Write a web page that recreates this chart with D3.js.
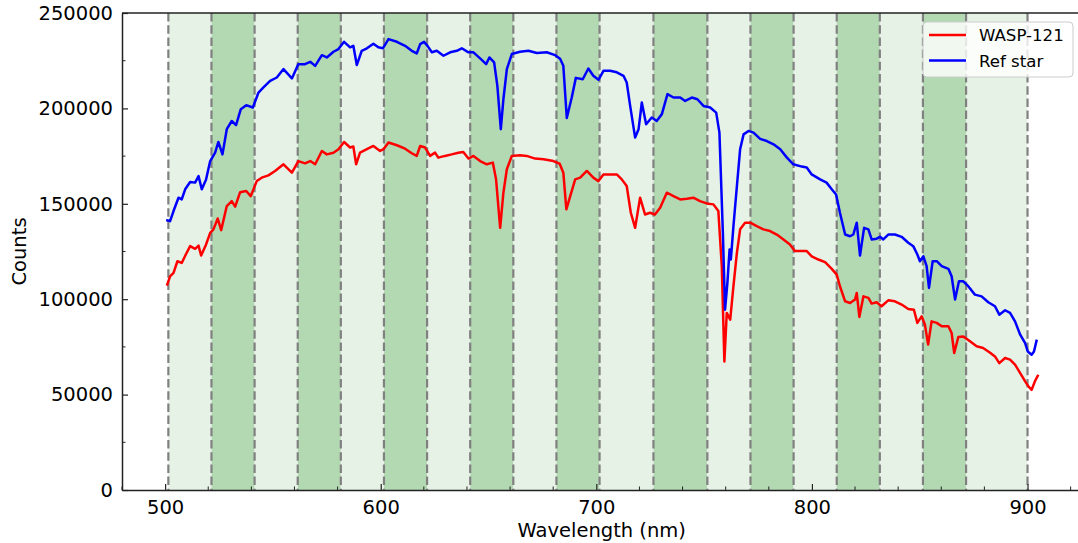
<!DOCTYPE html>
<html>
<head>
<meta charset="utf-8">
<script src="https://cdn.jsdelivr.net/npm/d3@7"></script>
<style>
  body { margin: 0; background: #fff; }
  svg { display: block; font-family: "DejaVu Sans", sans-serif; }
</style>
</head>
<body>
<svg id="chart" width="1078" height="543"></svg>
<script>
// bin edges (nm) of the spectroscopic channels
const binEdges = [501.5, 521.5, 541.5, 561.5, 581.5, 601.5, 621.5, 641.5, 661.5, 681.5,
  701.5, 726.5, 751.5, 771.5, 791.5, 811.5, 831.5, 851.5, 871.5, 900];

const xTicks = [500, 600, 700, 800, 900];
const yTicks = [0, 50000, 100000, 150000, 200000, 250000];

const seriesNames = ["WASP-121", "Ref star"];

const waspWl = [500.8, 502.3, 503.9, 505.7, 507.7, 509.6, 511.6, 513.9, 515.5, 516.7, 519.0, 520.9, 522.4, 524.4, 526.0,
  528.6, 530.9, 532.5, 534.8, 537.6, 539.7, 542.5, 544.8, 547.9, 551.0, 554.9, 558.8, 561.8, 564.9, 567.3, 569.6,
  572.7, 575.0, 578.1, 580.4, 583.0, 585.8, 587.3, 588.6, 590.4, 593.6, 596.6, 599.7, 601.3, 603.6, 607.5, 611.3,
  614.4, 616.7, 618.3, 620.6, 622.9, 625.2, 626.7, 629.8, 632.9, 636.0, 638.3, 640.7, 643.0, 646.1, 649.2, 652.0,
  653.5, 655.4, 656.9, 658.5, 660.8, 664.6, 667.7, 671.6, 675.5, 680.1, 683.0, 684.7, 686.1, 687.9, 690.2, 692.5,
  695.6, 698.6, 701.0, 703.3, 706.4, 709.5, 711.8, 714.1, 716.0, 718.0, 720.3, 722.6, 724.9, 727.2, 729.6, 732.7,
  735.8, 738.9, 742.0, 745.0, 748.1, 751.2, 754.3, 756.6, 758.2, 759.4, 760.5, 762.1, 763.6, 765.2, 766.7, 769.0,
  771.4, 774.4, 777.5, 780.6, 783.7, 786.8, 789.8, 792.1, 795.3, 797.6, 799.9, 803.0, 806.1, 809.2, 811.5, 813.0,
  815.4, 817.7, 820.0, 820.8, 822.0, 823.9, 826.2, 827.7, 830.0, 832.3, 835.4, 838.5, 841.6, 844.7, 847.3, 848.9,
  850.9, 852.4, 853.9, 855.5, 857.9, 860.2, 863.3, 864.8, 866.0, 867.9, 870.2, 873.3, 876.4, 879.4, 882.5, 884.9,
  886.9, 889.6, 891.9, 894.2, 896.6, 898.9, 900.4, 901.9, 903.4, 905.0];
const waspCounts = [107100, 112000, 113800, 119900, 119000, 123400, 127800, 126400, 128100, 122900, 128700, 134800, 136600, 142300, 136200,
  148800, 151400, 148500, 156100, 156700, 154000, 161900, 163700, 164900, 167200, 170700, 166300, 172400, 171200, 172400, 170700,
  177700, 175900, 176800, 178600, 182400, 179500, 180000, 170700, 176800, 178600, 180300, 177700, 178600, 182100, 180700, 178900,
  176500, 175100, 180300, 179500, 175100, 176800, 174200, 175100, 175900, 176800, 177200, 173700, 175100, 172400, 170700, 171600,
  162800, 137400, 155800, 168100, 175100, 175400, 175100, 173700, 173300, 172400, 171000, 166300, 147100, 154000, 162800, 163700,
  167200, 163700, 161900, 165400, 165400, 165400, 162800, 159300, 145300, 137400, 153200, 144400, 145300, 144400, 147900, 155800,
  154000, 152300, 152700, 153200, 151400, 150200, 149700, 146200, 117300, 67400, 92800, 89300, 106800, 124300, 136600, 140100,
  140100, 138300, 136600, 135700, 133900, 131300, 128700, 125200, 125200, 125200, 122500, 120800, 119400, 115900, 112900, 106800,
  98900, 98000, 99800, 103300, 90700, 101500, 100700, 97700, 98400, 96300, 99400, 98900, 97200, 94900, 94500, 87600,
  91000, 86700, 76200, 88400, 87600, 85800, 85800, 82300, 71800, 80200, 80500, 77900, 75300, 74400, 72100, 70000,
  66500, 69200, 68300, 65700, 61300, 56900, 54300, 52500, 56900, 60400];

const refWl = [500.5, 502.3, 503.9, 506.2, 507.7, 509.3, 511.6, 513.9, 515.5, 517.0, 519.0, 520.9, 523.2, 524.7, 526.6,
  528.6, 530.9, 532.9, 535.1, 537.6, 540.7, 543.3, 545.6, 548.7, 551.8, 554.9, 558.8, 561.8, 564.9, 567.3, 569.6,
  572.7, 575.0, 578.1, 580.4, 583.0, 585.8, 587.3, 588.9, 591.2, 593.6, 596.6, 598.9, 601.0, 603.6, 607.5, 611.3,
  614.4, 616.7, 618.3, 620.1, 621.7, 623.7, 626.0, 629.1, 632.2, 635.3, 637.6, 640.7, 643.0, 646.1, 648.9, 650.4,
  652.6, 654.1, 655.7, 656.9, 658.5, 660.8, 664.6, 668.5, 672.4, 677.0, 680.9, 683.2, 684.7, 686.3, 688.6, 690.5,
  693.7, 696.3, 698.6, 701.0, 703.3, 706.4, 709.5, 712.6, 714.1, 715.7, 718.0, 719.6, 721.1, 723.1, 725.7, 728.0,
  730.4, 733.0, 735.8, 738.9, 741.2, 744.3, 746.9, 749.7, 752.8, 755.6, 757.1, 758.7, 759.7, 760.8, 761.8, 762.4,
  763.6, 765.2, 766.7, 768.3, 770.6, 772.9, 776.0, 779.1, 782.2, 785.3, 788.4, 791.4, 795.3, 797.6, 799.9, 803.8,
  806.8, 809.2, 811.2, 813.0, 815.4, 817.7, 819.2, 820.8, 822.3, 824.2, 826.2, 827.7, 830.0, 831.6, 833.1, 835.4,
  838.5, 841.6, 844.7, 847.0, 848.9, 850.1, 851.7, 853.2, 854.3, 856.0, 857.9, 860.2, 863.3, 864.8, 866.4, 868.2,
  870.2, 872.5, 875.6, 878.7, 881.8, 884.9, 886.9, 889.6, 891.9, 894.2, 896.6, 898.9, 900.1, 901.9, 903.0, 904.3];
const refCounts = [141500, 140900, 146200, 153200, 152300, 157600, 161400, 161100, 164500, 157600, 162800, 172400, 176800, 182400, 175900,
  189100, 193400, 191200, 199600, 201700, 200500, 208300, 211000, 214400, 216200, 220600, 215700, 223200, 223200, 224400, 222300,
  227900, 226700, 229700, 231100, 234900, 232000, 232800, 222700, 230200, 231500, 233900, 232000, 231500, 236300, 234900, 232800,
  230200, 228800, 233700, 234900, 232800, 229400, 230200, 227600, 229400, 230200, 231500, 229400, 229400, 226200, 223200, 226700,
  224100, 211800, 189100, 204800, 220600, 228500, 229700, 230200, 229000, 229400, 227900, 226000, 222300, 195000, 205700, 216000,
  215300, 220900, 217100, 215000, 219700, 219700, 218900, 217100, 213600, 201300, 184700, 189100, 203100, 191700, 195200, 193400,
  197000, 207500, 205700, 205700, 203900, 205700, 204800, 201300, 200500, 197800, 187300, 134800, 94500, 108600, 126000, 120800,
  138300, 159300, 178600, 186400, 188200, 187300, 184000, 182900, 181200, 178600, 174200, 170700, 169500, 169000, 165400, 162800,
  161100, 157600, 154900, 145300, 133900, 133000, 133900, 140100, 122900, 137400, 136600, 131300, 131700, 132700, 131300, 133900,
  133900, 132700, 129600, 127800, 123400, 119900, 122500, 117300, 105900, 119900, 119900, 117300, 115900, 112000, 99800, 109400,
  109400, 106800, 102400, 101500, 98400, 96300, 91900, 94200, 92800, 88400, 81400, 77000, 72600, 70900, 72600, 78800];

const svg = d3.select("#chart");
const mLeft = 122, mTop = 13, mBottom = 490;

const x = d3.scaleLinear().domain([480, 925]).range([mLeft, mLeft + 445 * 2.156]);
const y = d3.scaleLinear().domain([0, 250000]).range([mBottom, mTop]);

svg.append("defs").append("clipPath")
    .attr("id", "plotClip")
  .append("rect")
    .attr("x", mLeft)
    .attr("y", mTop)
    .attr("width", x.range()[1] - mLeft)
    .attr("height", mBottom - mTop);

const plot = svg.append("g").attr("clip-path", "url(#plotClip)");

// shaded channels, alternating light / darker green
const bins = d3.pairs(binEdges);
plot.append("g")
  .selectAll("rect")
  .data(bins)
  .join("rect")
    .attr("x", d => x(d[0]))
    .attr("y", mTop)
    .attr("width", d => x(d[1]) - x(d[0]))
    .attr("height", mBottom - mTop)
    .attr("fill", (d, i) => i % 2 === 0 ? "#e6f2e6" : "#b3d9b3");

plot.append("g")
    .attr("stroke", "#808080")
    .attr("stroke-width", 2.2)
    .attr("stroke-dasharray", "8.5,3.7")
  .selectAll("line")
  .data(binEdges)
  .join("line")
    .attr("x1", d => x(d))
    .attr("x2", d => x(d))
    .attr("y1", mTop)
    .attr("y2", mBottom);

const line = d3.line()
  .x(d => x(d[0]))
  .y(d => y(d[1]));

const series = [
  { name: seriesNames[0], color: "#ff0000", pts: d3.zip(waspWl, waspCounts) },
  { name: seriesNames[1], color: "#0000ff", pts: d3.zip(refWl, refCounts) }
];

plot.append("g")
  .selectAll("path")
  .data(series)
  .join("path")
    .attr("fill", "none")
    .attr("stroke", d => d.color)
    .attr("stroke-width", 2.5)
    .attr("stroke-linejoin", "round")
    .attr("d", d => line(d.pts));

// axes: inward ticks, matplotlib-like
const xAxis = svg.append("g").attr("transform", `translate(0,${mBottom})`)
  .call(d3.axisBottom(x).tickValues(xTicks).tickSizeInner(-6).tickSizeOuter(0).tickPadding(10));
xAxis.append("g")
  .selectAll("line")
  .data(d3.range(480, 925, 20).filter(v => v % 100 !== 0))
  .join("line")
    .attr("x1", d => x(d))
    .attr("x2", d => x(d))
    .attr("y1", 0)
    .attr("y2", -3.5)
    .attr("stroke", "#222");

const yAxis = svg.append("g").attr("transform", `translate(${mLeft},0)`)
  .call(d3.axisLeft(y).tickValues(yTicks).tickFormat(d3.format("d")).tickSizeInner(-6).tickSizeOuter(0).tickPadding(9));
yAxis.append("g")
  .selectAll("line")
  .data(d3.range(25000, 250000, 50000))
  .join("line")
    .attr("x1", 0)
    .attr("x2", 3.5)
    .attr("y1", d => y(d))
    .attr("y2", d => y(d))
    .attr("stroke", "#222");

svg.selectAll(".domain").attr("stroke", "#222").attr("stroke-width", 1.5);
svg.selectAll(".tick line").attr("stroke", "#222").attr("stroke-width", 1.2);
svg.selectAll(".tick text").attr("font-size", 19.5).attr("fill", "#000")
  .attr("font-family", "DejaVu Sans");

// top spine
svg.append("line")
    .attr("x1", mLeft)
    .attr("x2", x.range()[1])
    .attr("y1", mTop)
    .attr("y2", mTop)
    .attr("stroke", "#222")
    .attr("stroke-width", 1.5);

svg.append("text")
    .attr("x", (mLeft + x.range()[1]) / 2)
    .attr("y", 537)
    .attr("text-anchor", "middle")
    .attr("font-size", 19.5)
    .text("Wavelength (nm)");

svg.append("text")
    .attr("transform", `translate(26,${(mTop + mBottom) / 2}) rotate(-90)`)
    .attr("text-anchor", "middle")
    .attr("font-size", 19.5)
    .text("Counts");

// legend
const legend = svg.append("g").attr("transform", "translate(923,22)");
legend.append("rect")
    .attr("width", 150)
    .attr("height", 55)
    .attr("rx", 4)
    .attr("fill", "#fff")
    .attr("fill-opacity", 0.8)
    .attr("stroke", "#cccccc");
const item = legend.selectAll("g.item")
  .data(series)
  .join("g")
    .attr("class", "item")
    .attr("transform", (d, i) => `translate(0,${13 + i * 25.5})`);
item.append("line")
    .attr("x1", 6)
    .attr("x2", 43)
    .attr("stroke", d => d.color)
    .attr("stroke-width", 2.5);
item.append("text")
    .attr("x", 56)
    .attr("y", 6)
    .attr("font-size", 16.6)
    .text(d => d.name);
</script>
</body>
</html>
